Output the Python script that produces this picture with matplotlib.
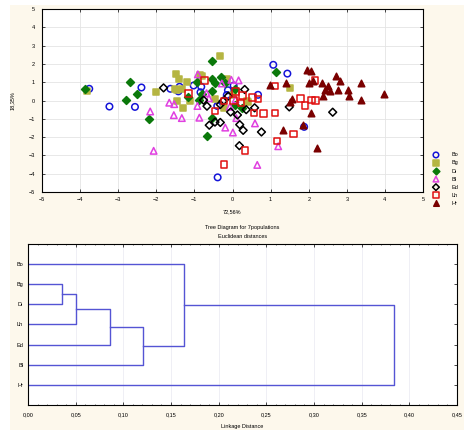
import matplotlib
matplotlib.use("Agg")
import matplotlib.pyplot as plt
from matplotlib.patches import Rectangle
from matplotlib.ticker import MultipleLocator

plt.rcParams["font.family"] = ["Liberation Sans", "DejaVu Sans"]

# PCA scores per population (axis 1 = 72,56 %, axis 2 = 18,35 %)
bo_x = [-3.76, -3.23, -2.56, -2.39, -1.63, -1.39, -1.42, -1.02, -0.82, -0.84, -0.40, -0.39, -0.12, 0.03, -0.15, 1.07, 1.44, 0.67, 1.88]
bo_y = [0.64, -0.33, -0.35, 0.71, 0.64, 0.75, 0.50, 0.82, 0.75, 0.45, -0.30, -4.20, 0.56, 0.82, 0.30, 1.95, 1.47, 0.31, -1.44]

bg_x = [-3.81, -2.00, -1.51, -1.48, -1.40, -1.45, -1.32, -1.19, -1.46, -1.30, -1.12, -0.85, -0.80, -0.46, -0.33, -0.22, -0.15, 0.02, 0.37, 0.40, 1.51]
bg_y = [0.50, 0.45, 0.64, 1.45, 1.20, 0.55, 0.64, 1.02, -0.05, -0.40, 0.00, 1.40, 1.36, 0.08, 2.42, -0.42, 1.15, 0.30, -0.04, -0.06, 0.68]

di_x = [-3.88, -2.79, -2.70, -2.50, -2.19, -1.18, -0.93, -0.88, -0.81, -0.68, -0.53, -0.53, -0.53, -0.53, -0.46, -0.31, -0.20, 0.06, 0.06, 0.24, 1.14]
di_y = [0.64, 0.05, 1.00, 0.38, -1.00, 0.18, 1.00, 0.02, 0.38, -1.96, 2.14, 1.20, 0.50, -0.97, 0.94, 1.31, 0.94, 0.64, -0.27, -0.43, 1.56]

bl_x = [-2.16, -2.07, -1.66, -1.53, -1.54, -1.33, -0.91, -0.92, -0.87, -0.68, -0.62, -0.28, -0.19, 0.01, -0.03, 0.16, 0.08, -0.07, 0.10, 0.59, 0.65, 1.20]
bl_y = [-0.60, -2.75, -0.12, -0.20, -0.80, -0.96, 1.43, -0.30, -0.94, 0.40, 0.12, 0.93, -1.48, -1.75, 1.13, 1.10, 0.06, -0.34, -0.96, -1.25, -3.52, -2.50]

ed_x = [-1.81, -0.76, -0.67, -0.61, -0.46, -0.32, -0.32, -0.25, -0.11, -0.05, 0.13, 0.32, 0.36, 0.58, 0.19, 0.28, 0.76, 0.18, 1.49, 2.63]
ed_y = [0.69, 0.02, -0.31, -1.35, -1.18, -1.20, -0.22, -0.04, 0.24, -0.63, -0.79, 0.60, -0.50, -0.40, -1.32, -1.63, -1.72, -2.47, -0.35, -0.64]

lh_x = [-1.16, -0.74, -0.46, -0.22, -0.22, 0.03, 0.08, 0.22, 0.26, 0.52, 0.67, 0.56, 0.82, 1.12, 1.11, 1.79, 1.90, 2.07, 2.18, 2.17, 1.60, 1.17, 0.33]
lh_y = [0.37, 1.08, -0.58, -3.50, -0.02, 0.00, 0.50, -0.14, 0.27, 0.15, 0.07, -0.68, -0.70, -0.67, 0.80, 0.12, -0.26, 0.02, -0.01, 1.08, -1.84, -2.20, -2.73]

hr_x = [0.98, 1.40, 1.51, 1.56, 1.32, 1.84, 2.05, 1.95, 2.05, 2.00, 2.10, 2.34, 2.50, 2.43, 2.57, 2.37, 2.72, 2.82, 2.78, 3.04, 3.05, 3.37, 3.37, 3.98, 2.23]
hr_y = [0.85, 0.94, -0.08, 0.06, -1.63, -1.32, -0.70, 1.68, 1.63, 0.95, 1.08, 0.96, 0.80, 0.60, 0.52, 0.26, 1.36, 1.08, 0.58, 0.57, 0.27, 0.95, 0.05, 0.38, -2.57]

# dendrogram: leaf order (top to bottom) and merges (left, right, linkage distance)
leaves = ["Bo", "Bg", "Di", "Lh", "Ed", "Bl", "Hr"]
merges = [("Bg", "Di", 0.036), ("Bg+Di", "Lh", 0.050), ("Bg+Di+Lh", "Ed", 0.086),
          ("Bg+Di+Lh+Ed", "Bl", 0.121), ("Bo", "Bg+Di+Lh+Ed+Bl", 0.164),
          ("Bo+Bg+Di+Lh+Ed+Bl", "Hr", 0.384)]

fs = 4
fig = plt.figure(figsize=(4.74, 4.48), dpi=100)
fig.patches.append(Rectangle((10 / 474, 1 - 430 / 448), 454 / 474, 425 / 448,
                             transform=fig.transFigure, facecolor="#fdf8ec",
                             edgecolor="none", zorder=-1))

ax = fig.add_axes([42 / 474, 1 - 192 / 448, 381 / 474, 183 / 448])
groups = [
    ("Bo", bo_x, bo_y, dict(marker="o", facecolors="none", edgecolors="#1414d8")),
    ("Bg", bg_x, bg_y, dict(marker="s", color="#b5b542")),
    ("Di", di_x, di_y, dict(marker="D", color="#0a780a", s=16)),
    ("Bl", bl_x, bl_y, dict(marker="^", facecolors="none", edgecolors="#e040e0")),
    ("Ed", ed_x, ed_y, dict(marker="D", facecolors="none", edgecolors="black", s=16)),
    ("Lh", lh_x, lh_y, dict(marker="s", facecolors="none", edgecolors="#e01010")),
    ("Hr", hr_x, hr_y, dict(marker="^", color="#7a0000")),
]
for name, xs, ys, kw in groups:
    kw.setdefault("s", 22)
    ax.scatter(xs, ys, linewidths=1.1, label=name, zorder=3, **kw)

ax.set_xlim(-5, 5)
ax.set_ylim(-5, 5)
ax.xaxis.set_major_locator(MultipleLocator(1))
ax.yaxis.set_major_locator(MultipleLocator(1))
ax.grid(True, color="#e4e4e4", linewidth=0.6)
ax.tick_params(labelsize=fs, direction="in", length=2, width=0.5, top=True, right=True)
ax.tick_params(axis="y", pad=5)
ax.set_xlabel("72,56%", fontsize=fs, labelpad=5)
ax.set_ylabel("18,35%", fontsize=fs, labelpad=10)
for sp in ax.spines.values():
    sp.set_linewidth(0.8)

fig.legend(loc="upper left", bbox_to_anchor=(0.908, 0.666), fontsize=fs, frameon=False,
           handlelength=1.0, handletextpad=2.3, labelspacing=0.55, borderpad=0,
           markerscale=0.85)

# dendrogram
dx = fig.add_axes([28 / 474, 1 - 405 / 448, 429 / 474, 161 / 448])
ypos = {name: i + 1 for i, name in enumerate(leaves)}
xpos = {name: 0.0 for name in leaves}
line_col = "#5454d4"
for a, b, h in merges:
    ya, yb = ypos[a], ypos[b]
    dx.plot([xpos[a], h, h, xpos[b]], [ya, ya, yb, yb], color=line_col, linewidth=1.0)
    new = a + "+" + b
    ypos[new] = (ya + yb) / 2
    xpos[new] = h

dx.set_xlim(0, 0.45)
dx.set_ylim(8, 0)
dx.set_yticks(range(1, 8))
dx.set_yticklabels(leaves)
dx.xaxis.set_major_locator(MultipleLocator(0.05))
dx.xaxis.set_minor_locator(MultipleLocator(0.01))
dx.xaxis.set_major_formatter(plt.FuncFormatter(lambda v, p: f"{v:.2f}".replace(".", ",")))
dx.grid(True, axis="x", color="#ececf4", linewidth=0.6)
dx.tick_params(labelsize=fs, direction="in", length=2, width=0.5, top=True, right=True)
dx.tick_params(axis="x", pad=5)
dx.tick_params(which="minor", direction="in", length=1, width=0.4, top=True)
dx.set_xlabel("Linkage Distance", fontsize=fs, labelpad=5)
dx.set_title("Tree Diagram for 7populations\nEuclidean distances", fontsize=fs, pad=4, linespacing=2.0)
for sp in dx.spines.values():
    sp.set_linewidth(0.8)

fig.savefig("out.png", dpi=100)
